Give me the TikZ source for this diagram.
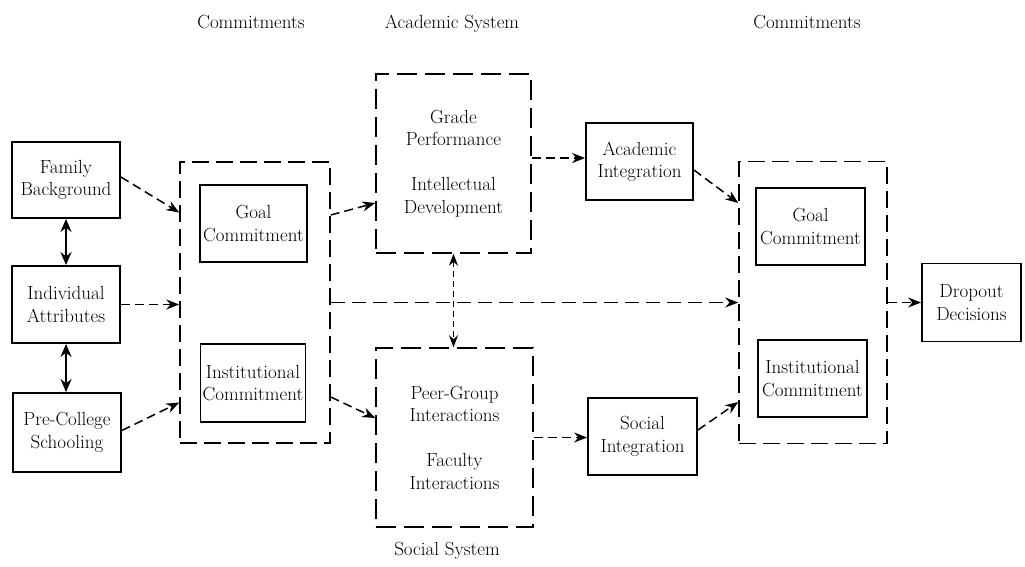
\documentclass[tikz,border=0pt]{standalone}
\usetikzlibrary{arrows.meta,calc}
\begin{document}
\begin{tikzpicture}[x=1pt,y=-1pt,
  txt/.style={font=\fontsize{19}{22.5}\selectfont, align=center, inner sep=0pt},
  solidbox/.style={txt, draw, line width=1.8pt},
  groupbox/.style={txt, draw, line width=1.5pt, dash pattern=on 17pt off 7pt},
  sysbox/.style={txt, draw, line width=1.5pt, dash pattern=on 20pt off 8pt},
  tip/.style={-{Stealth[length=13pt,width=10pt]}},
  flow/.style={tip, line width=1.5pt, dash pattern=on 9pt off 5pt},
  longflow/.style={tip, line width=1.5pt, dash pattern=on 14pt off 7pt},
  link/.style={{Stealth[length=13pt,width=11pt]}-{Stealth[length=13pt,width=11pt]}, line width=2.4pt},
  dlink/.style={{Stealth[length=12pt,width=9pt]}-{Stealth[length=12pt,width=9pt]}, line width=1.3pt, dash pattern=on 6pt off 4pt},
  header/.style={font=\fontsize{19}{21}\selectfont, anchor=base, inner sep=0pt}]

\useasboundingbox (0,0) rectangle (1025,566);

% column headings
\node[header] (h1) at (251,28) {Commitments};
\node[header] (h2) at (452,28) {Academic System};
\node[header] (h3) at (807,28) {Commitments};
\node[header] (h4) at (447,555) {Social System};

% pre-entry attributes
\node[solidbox, minimum width=108pt, minimum height=76pt] (fam) at (66,180) {Family\\Background};
\node[solidbox, minimum width=108pt, minimum height=77pt] (ind) at (66,304.5) {Individual\\Attributes};
\node[solidbox, minimum width=108pt, minimum height=79pt] (pre) at (67,432.5) {Pre-College\\Schooling};

% initial commitments
\node[groupbox, minimum width=150pt, minimum height=281pt] (lcont) at (255,302.5) {};
\node[solidbox, minimum width=107pt, minimum height=77pt] (goal1) at (253.5,223.5) {Goal\\Commitment};
\node[solidbox, minimum width=105pt, minimum height=78pt] (inst1) at (253,383) {Institutional\\Commitment};

% academic and social systems
\node[sysbox, minimum width=155pt, minimum height=179pt] (acad) at (453.5,163.5)
  {Grade\\Performance\\[22.5pt]Intellectual\\Development};
\node[sysbox, minimum width=157pt, minimum height=179pt] (soc) at (454.5,437.5)
  {Peer-Group\\Interactions\\[22.5pt]Faculty\\Interactions};

% integration
\node[solidbox, minimum width=107pt, minimum height=77pt] (acint) at (639.5,161.5) {Academic\\Integration};
\node[solidbox, minimum width=109pt, minimum height=77pt] (socint) at (642.5,436.5) {Social\\Integration};

% later commitments
\node[groupbox, minimum width=148pt, minimum height=282pt] (rcont) at (813,302.5) {};
\node[solidbox, minimum width=109pt, minimum height=77pt] (goal2) at (810.5,226.5) {Goal\\Commitment};
\node[solidbox, minimum width=109pt, minimum height=77pt] (inst2) at (812.5,378.5) {Institutional\\Commitment};

% outcome
\node[solidbox, minimum width=99pt, minimum height=78pt] (drop) at (971.5,302.5) {Dropout\\Decisions};

% links among background attributes
\draw[link] (fam.south) -- (ind.north);
\draw[link] (ind.south) -- (ind.south |- pre.north);

% into initial commitments
\draw[flow] ([yshift=3pt]fam.east) -- ([yshift=90pt]lcont.west);
\draw[flow] (ind.east) -- (ind.east -| lcont.west);
\draw[flow] ([yshift=2pt]pre.east) -- ([yshift=-100pt]lcont.west);

% commitments to the systems
\draw[flow] ([yshift=87.5pt]lcont.east) -- ([yshift=-39.5pt]acad.west);
\draw[flow] ([yshift=-94.5pt]lcont.east) -- ([yshift=19.5pt]soc.west);
\draw[longflow] (lcont.east) -- (rcont.west);

% between academic and social systems
\draw[dlink] (acad.south) -- (acad.south |- soc.north);

% systems to integration
\draw[flow] ([yshift=3.5pt]acint.west -| acad.east) -- ([yshift=3.5pt]acint.west);
\draw[flow] (soc.east) -- (soc.east -| socint.west);

% integration to later commitments
\draw[flow] ([yshift=-8.5pt]acint.east) -- ([yshift=99.5pt]rcont.west);
\draw[flow] ([yshift=6.5pt]socint.east) -- ([yshift=-99.5pt]rcont.west);

% to dropout decisions
\draw[flow] (rcont.east) -- (drop.west);

\end{tikzpicture}
\end{document}
